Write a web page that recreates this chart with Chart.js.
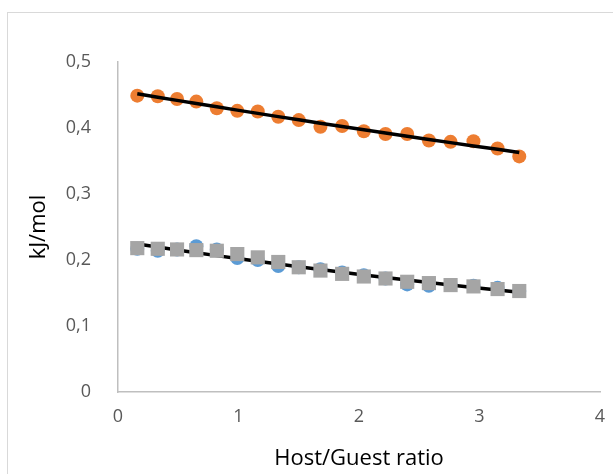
<!DOCTYPE html>
<html>
<head>
<meta charset="utf-8">
<script src="https://cdn.jsdelivr.net/npm/chart.js@4.4.1/dist/chart.umd.min.js"></script>
<style>
  html, body { margin: 0; padding: 0; background: #fff; overflow: hidden; }
  #wrap { position: relative; width: 613px; height: 474px; }
  #frame {
    position: absolute; left: 7px; top: 12px; width: 700px; height: 600px;
    border: 1px solid #d9d9d9; box-sizing: border-box;
  }
  canvas { position: absolute; left: 0; top: 0; }
</style>
</head>
<body>
<div id="wrap">
  <div id="frame"></div>
  <canvas id="chart" width="613" height="474"></canvas>
</div>
<script>
// host/guest ratio (x) for every measurement
const ratios = [0.16, 0.33, 0.49, 0.65, 0.82, 0.99, 1.16, 1.33, 1.50, 1.68,
                1.86, 2.04, 2.22, 2.40, 2.58, 2.76, 2.95, 3.15, 3.33];

// kJ/mol values
const orangeVals = [0.449, 0.448, 0.444, 0.440, 0.430, 0.426, 0.425, 0.417, 0.412, 0.402,
                    0.403, 0.395, 0.391, 0.391, 0.381, 0.379, 0.380, 0.369, 0.357];
const blueVals   = [0.217, 0.214, 0.216, 0.221, 0.216, 0.203, 0.200, 0.191, 0.189, 0.186,
                    0.181, 0.177, 0.172, 0.163, 0.161, 0.162, 0.161, 0.158, 0.153];
const greyVals   = [0.218, 0.217, 0.216, 0.215, 0.214, 0.209, 0.204, 0.197, 0.189, 0.184,
                    0.179, 0.175, 0.172, 0.167, 0.165, 0.162, 0.160, 0.156, 0.153];

const xTickLabels = ["0", "1", "2", "3", "4"];
const yTickLabels = ["0", "0,1", "0,2", "0,3", "0,4", "0,5"];

// 2nd order polynomial trendline (least squares)
function polyTrend(xs, ys) {
  let n = xs.length, sx = 0, sx2 = 0, sx3 = 0, sx4 = 0, sy = 0, sxy = 0, sx2y = 0;
  for (let i = 0; i < n; i++) {
    const x = xs[i], y = ys[i];
    sx += x; sx2 += x * x; sx3 += x * x * x; sx4 += x * x * x * x;
    sy += y; sxy += x * y; sx2y += x * x * y;
  }
  const m = [[n, sx, sx2, sy], [sx, sx2, sx3, sxy], [sx2, sx3, sx4, sx2y]];
  for (let c = 0; c < 3; c++) {
    for (let r = c + 1; r < 3; r++) {
      const f = m[r][c] / m[c][c];
      for (let k = c; k < 4; k++) m[r][k] -= f * m[c][k];
    }
  }
  const a = [0, 0, 0];
  for (let r = 2; r >= 0; r--) {
    let s = m[r][3];
    for (let k = r + 1; k < 3; k++) s -= m[r][k] * a[k];
    a[r] = s / m[r][r];
  }
  return xs.map(x => ({ x, y: a[0] + a[1] * x + a[2] * x * x }));
}

const pts = vals => ratios.map((x, i) => ({ x, y: vals[i] }));

new Chart(document.getElementById("chart"), {
  type: "scatter",
  data: {
    datasets: [
      {
        data: pts(greyVals),
        pointStyle: "rect",
        pointRadius: 10,
        backgroundColor: "#a5a5a5",
        borderWidth: 0,
        order: 0
      },
      {
        data: polyTrend(ratios, blueVals),
        showLine: true,
        pointRadius: 0,
        borderColor: "#000",
        borderWidth: 3.5,
        order: 1
      },
      {
        data: pts(blueVals),
        pointRadius: 7,
        backgroundColor: "#5b9bd5",
        borderWidth: 0,
        order: 2
      },
      {
        data: polyTrend(ratios, orangeVals),
        showLine: true,
        pointRadius: 0,
        borderColor: "#000",
        borderWidth: 3.5,
        order: 3
      },
      {
        data: pts(orangeVals),
        pointRadius: 7,
        backgroundColor: "#ed7d31",
        borderWidth: 0,
        order: 4
      }
    ]
  },
  options: {
    responsive: false,
    animation: false,
    layout: { padding: { left: 20, top: 62, right: 13, bottom: 0 } },
    plugins: { legend: { display: false }, tooltip: { enabled: false } },
    scales: {
      x: {
        type: "linear",
        min: 0, max: 4,
        afterFit: s => { s.height = 82; s.paddingLeft = 0; s.paddingRight = 0; },
        grid: { display: false, drawTicks: false },
        border: { color: "#bfbfbf", width: 1.5 },
        ticks: {
          stepSize: 1,
          padding: 14,
          color: "#595959",
          font: { family: "Open Sans", size: 18 },
          callback: (v, i) => xTickLabels[i]
        },
        title: {
          display: true,
          text: "Host/Guest ratio",
          color: "#000",
          font: { family: "Open Sans", size: 22 },
          padding: { top: 0, bottom: 2 }
        }
      },
      y: {
        min: 0, max: 0.5,
        afterFit: s => { s.width = 98; s.paddingTop = 0; s.paddingBottom = 0; },
        grid: { display: false, drawTicks: false },
        border: { color: "#bfbfbf", width: 1.5 },
        ticks: {
          stepSize: 0.1,
          padding: 27,
          color: "#595959",
          font: { family: "Open Sans", size: 18 },
          callback: (v, i) => yTickLabels[i]
        },
        title: {
          display: true,
          text: "kJ/mol",
          color: "#000",
          font: { family: "Open Sans", size: 22 },
          padding: { top: 6, bottom: 0 }
        }
      }
    }
  }
});
</script>
</body>
</html>
